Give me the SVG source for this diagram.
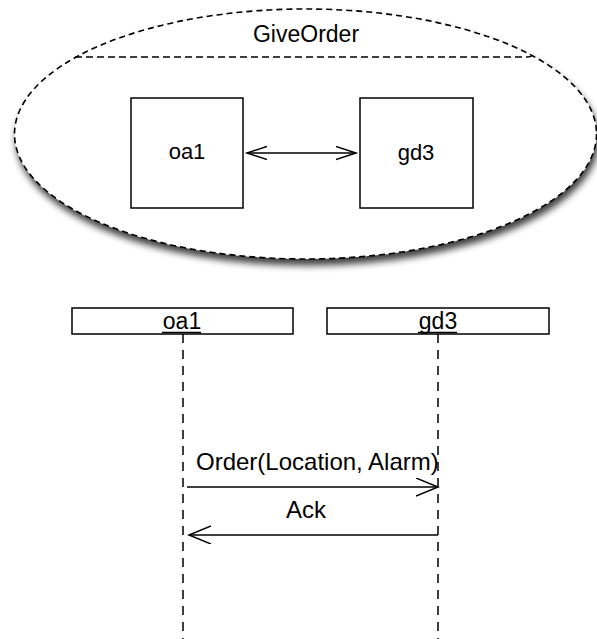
<svg xmlns="http://www.w3.org/2000/svg" width="597" height="639" viewBox="0 0 597 639">
<defs>
<style>
text{font-family:"Liberation Sans",Arial,sans-serif;fill:#000}
.box{fill:#fff;stroke:#000;stroke-width:1.5}
.line{stroke:#000;stroke-width:1.5;fill:none}
.life{stroke:#000;stroke-width:1.5;stroke-dasharray:9,7;fill:none}
</style>
<filter id="shadow" x="-10%" y="-10%" width="120%" height="130%">
<feGaussianBlur in="SourceAlpha" stdDeviation="3.5"/>
<feOffset dx="2" dy="6" result="b"/>
<feComponentTransfer><feFuncA type="linear" slope="0.75"/></feComponentTransfer>
<feMerge><feMergeNode/><feMergeNode in="SourceGraphic"/></feMerge>
</filter>
<marker id="open" markerUnits="userSpaceOnUse" markerWidth="30" markerHeight="24" refX="22" refY="9" orient="auto-start-reverse">
<path d="M0,0 L22,9 L0,18" fill="none" stroke="#000" stroke-width="1.5"/>
</marker>
<marker id="openS" markerUnits="userSpaceOnUse" markerWidth="26" markerHeight="18" refX="20" refY="7" orient="auto-start-reverse">
<path d="M0,0.5 L20,7 L0,13.5" fill="none" stroke="#000" stroke-width="1.5"/>
</marker>
</defs>
<g id="GiveOrder">
<ellipse cx="305.5" cy="134" rx="291" ry="125" fill="#fff" stroke="#000" stroke-width="1.6" stroke-dasharray="6,4" filter="url(#shadow)"/>
<path d="M75,57 L527,57 Q531,57 533,55" fill="none" stroke="#000" stroke-width="1.5" stroke-dasharray="7,4"/>
<text x="306" y="42" font-size="23" text-anchor="middle">GiveOrder</text>
</g>
<g id="node-oa1">
<rect class="box" x="131" y="98" width="112" height="110"/>
<text x="187" y="159" font-size="22" text-anchor="middle">oa1</text>
</g>
<g id="node-gd3">
<rect class="box" x="360" y="98" width="113" height="110"/>
<text x="416" y="160" font-size="22" text-anchor="middle">gd3</text>
</g>
<g id="lifeline-oa1">
<rect class="box" x="72" y="308" width="221" height="26"/>
<text x="182" y="329" font-size="23" text-anchor="middle">oa1</text>
<line x1="162" y1="332.5" x2="201" y2="332.5" stroke="#000" stroke-width="1.5"/>
</g>
<g id="lifeline-gd3">
<rect class="box" x="327" y="308" width="222" height="26"/>
<text x="438" y="329" font-size="23" text-anchor="middle">gd3</text>
<line x1="418" y1="332.5" x2="457" y2="332.5" stroke="#000" stroke-width="1.5"/>
</g>
<g id="connectors">
<line class="line" x1="247" y1="153" x2="356" y2="153" marker-start="url(#openS)" marker-end="url(#openS)"/>
<line class="life" x1="183" y1="334" x2="183" y2="639"/>
<line class="life" x1="438" y1="334" x2="438" y2="639"/>
<line class="line" x1="187" y1="487" x2="438" y2="487" marker-end="url(#open)"/>
<text x="196" y="470" font-size="24">Order(Location, Alarm)</text>
<line class="line" x1="438" y1="535" x2="189" y2="535" marker-end="url(#open)"/>
<text x="306" y="518" font-size="24" text-anchor="middle">Ack</text>
</g>
</svg>
